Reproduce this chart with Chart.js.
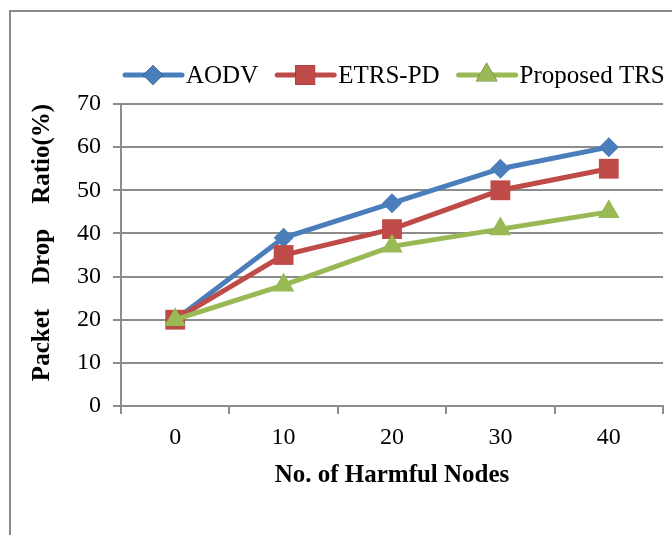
<!DOCTYPE html>
<html>
<head>
<meta charset="utf-8">
<title>Packet Drop Ratio</title>
<script src="https://cdn.jsdelivr.net/npm/chart.js@4"></script>
<style>
  html, body { margin: 0; padding: 0; background: #fff; overflow: hidden; }
  #frame {
    position: absolute; left: 9px; top: 10px;
    width: 700px; height: 600px;
    border: 2px solid #8a8a8a;
  }
  #wrap { position: absolute; left: 0; top: 0; width: 672px; height: 535px; }
</style>
</head>
<body>
<div id="frame"></div>
<div id="wrap"><canvas id="dropChart" width="672" height="535"></canvas></div>
<script>
const harmfulNodes = ['0', '10', '20', '30', '40'];
const aodv = [20, 39, 47, 55, 60];
const etrsPd = [20, 35, 41, 50, 55];
const proposedTrs = [20, 28, 37, 41, 45];

const gridGray = '#8c8c8c';
const serif = 'Liberation Serif, Times New Roman, serif';

// excel style legend: short line with the marker in the middle
const lineLegend = {
  id: 'lineLegend',
  afterDraw(chart) {
    const ctx = chart.ctx;
    const y = 75;
    let x = 125;
    ctx.save();
    ctx.font = '25px ' + serif;
    ctx.textBaseline = 'middle';
    chart.data.datasets.forEach(ds => {
      ctx.strokeStyle = ds.borderColor;
      ctx.lineWidth = 5;
      ctx.lineCap = 'round';
      ctx.beginPath();
      ctx.moveTo(x, y);
      ctx.lineTo(x + 57, y);
      ctx.stroke();
      Chart.helpers.drawPoint(ctx, {
        pointStyle: ds.pointStyle,
        radius: ds.pointRadius,
        borderWidth: 0
      }, x + 28, y);
      ctx.fillStyle = ds.backgroundColor;
      ctx.fill();
      ctx.fillStyle = '#000';
      ctx.fillText(ds.label, x + 61, y + 1);
      x += 61 + ctx.measureText(ds.label).width + 19;
    });
    ctx.restore();
  }
};

const ctx = document.getElementById('dropChart').getContext('2d');
new Chart(ctx, {
  type: 'line',
  data: {
    labels: harmfulNodes,
    datasets: [
      {
        label: 'AODV',
        data: aodv,
        borderColor: '#4a7ebb',
        backgroundColor: '#4a7ebb',
        borderWidth: 5,
        pointStyle: 'rectRot',
        pointRadius: 10,
        pointBorderWidth: 0,
        order: 3
      },
      {
        label: 'ETRS-PD',
        data: etrsPd,
        borderColor: '#be4b48',
        backgroundColor: '#be4b48',
        borderWidth: 5,
        pointStyle: 'rect',
        pointRadius: 14,
        pointBorderWidth: 0,
        order: 2
      },
      {
        label: 'Proposed TRS',
        data: proposedTrs,
        borderColor: '#98b954',
        backgroundColor: '#98b954',
        borderWidth: 5,
        pointStyle: 'triangle',
        pointRadius: 12.5,
        pointBorderWidth: 0,
        order: 1
      }
    ]
  },
  options: {
    responsive: false,
    animation: false,
    layout: { autoPadding: false, padding: { top: 104, right: 9, left: 0, bottom: 0 } },
    plugins: {
      legend: { display: false },
      tooltip: { enabled: false }
    },
    scales: {
      x: {
        offset: true,
        grid: {
          offset: true,
          drawOnChartArea: false,
          color: gridGray,
          lineWidth: 2,
          tickLength: 8
        },
        border: { color: gridGray, width: 2 },
        ticks: { color: '#000', font: { family: serif, size: 24 }, padding: 9 },
        title: {
          display: true,
          text: 'No. of Harmful Nodes',
          color: '#000',
          font: { family: serif, size: 25, weight: 'bold' },
          padding: { top: 0, bottom: 44 }
        },
        afterFit: scale => {
          scale.height = 129;
          scale.paddingLeft = 0;
          scale.paddingRight = 0;
        }
      },
      y: {
        min: 0,
        max: 70,
        grid: { color: gridGray, lineWidth: 2, tickLength: 8 },
        border: { color: gridGray, width: 2 },
        ticks: { stepSize: 10, color: '#000', font: { family: serif, size: 24 }, padding: 12 },
        title: {
          display: true,
          text: '    Packet    Drop    Ratio(%)',
          color: '#000',
          font: { family: serif, size: 25, weight: 'bold' },
          padding: { top: 28, bottom: 0 }
        },
        afterFit: scale => { scale.width = 121; }
      }
    }
  },
  plugins: [lineLegend]
});
</script>
</body>
</html>
